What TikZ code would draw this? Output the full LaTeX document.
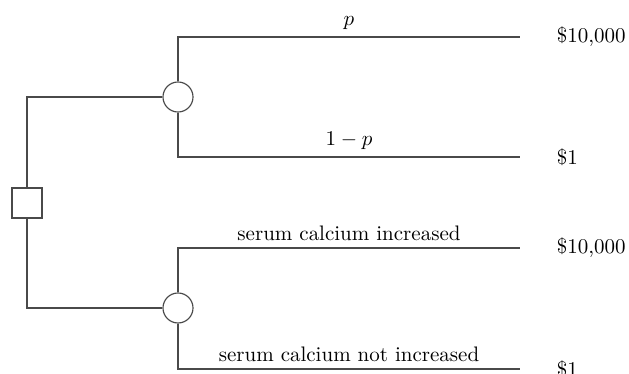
\documentclass[tikz,border=0pt]{standalone}
\usepackage{tikz}
\usetikzlibrary{positioning}
\definecolor{treeink}{HTML}{4A4A4A}
\tikzset{
  decision/.style={draw=treeink,line width=0.55pt,fill=white,
                   minimum size=14.3pt,inner sep=0pt},
  chance/.style  ={circle,draw=treeink,line width=0.55pt,fill=white,
                   minimum size=14.3pt,inner sep=0pt},
  branch/.style  ={draw=treeink,line width=0.55pt},
  payoff/.style  ={font=\normalsize},
  prob/.style    ={above,font=\normalsize}
}
\begin{document}
\begin{tikzpicture}[x=0.4763pt,y=-0.4763pt]
    \useasboundingbox (0,0) rectangle (629,374);
    \node[decision] (dec) at (27,203) {};
    \node[chance] (top) at (178,97) {};
    \node[chance] (bot) at (178,308) {};
    % branch ends
    \coordinate (e1) at (520,37);
    \coordinate (e2) at (520,157);
    \coordinate (e3) at (520,248);
    \coordinate (e4) at (520,369);
    \node[payoff,right=14pt of e1] (v1) {\$10,000};
    \node[payoff,right=14pt of e2] (v2) {\$1};
    \node[payoff,right=14pt of e3] (v3) {\$10,000};
    \node[payoff,right=14pt of e4] (v4) {\$1};
    \draw[branch] (dec.north) |- (top.west);
    \draw[branch] (dec.south) |- (bot.west);
    \draw[branch] (top.north) |- node[pos=0.75,prob] {$p$} (e1);
    \draw[branch] (top.south) |- node[pos=0.75,prob] {$1-p$} (e2);
    \draw[branch] (bot.north) |- node[pos=0.75,prob] {serum calcium increased} (e3);
    \draw[branch] (bot.south) |- node[pos=0.75,prob] {serum calcium not increased} (e4);
\end{tikzpicture}
\end{document}
